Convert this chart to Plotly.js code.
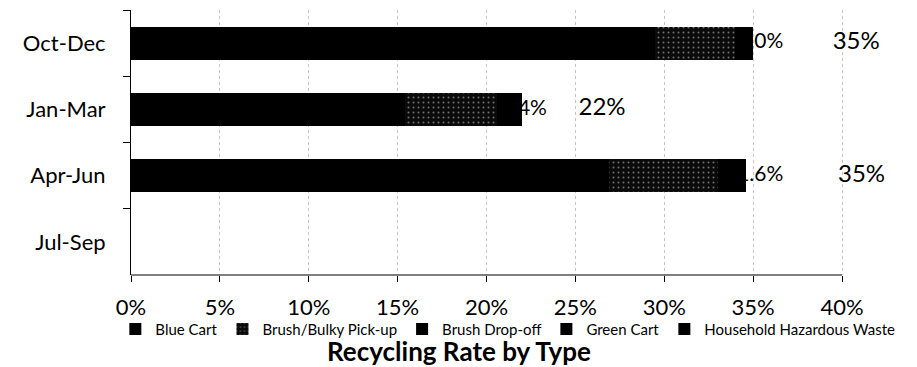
<!DOCTYPE html>
<html>
<head>
<meta charset="utf-8">
<script src="https://cdn.plot.ly/plotly-3.0.1.min.js"></script>
<style>html,body{margin:0;padding:0;background:#fff;}#chart{width:917px;height:367px;}</style>
</head>
<body>
<div id="chart"></div>
<script>
// ---- data ----
var quarters = ["Oct-Dec", "Jan-Mar", "Apr-Jun", "Jul-Sep"];
var seriesNames = ["Blue Cart", "Brush/Bulky Pick-up", "Brush Drop-off", "Green Cart", "Household Hazardous Waste"];
var blueCart       = [29.5, 15.4, 26.9, null];
var brushBulky     = [4.5, 5.2, 6.1, null];
var brushDropoff   = [1.0, 1.4, 1.6, null];
var greenCart      = [0, 0, 0, null];
var hazardousWaste = [0, 0, 0, null];
var totals         = [35, 22, 34.6, null];
var totalLabels    = ["35%", "22%", "35%", ""];
var tailLabels     = ["1.0%", "1.4%", "1.6%", ""];
var xTickVals      = [0, 5, 10, 15, 20, 25, 30, 35, 40];
var xTickText      = ["0%", "5%", "10%", "15%", "20%", "25%", "30%", "35%", "40%"];

// ---- label placement (layout, not data) ----
var tailRightOffset  = [1.7, 1.4, 2.1, 0];
var totalLabelOffset = [5.8, 4.5, 6.5, 0];
var axisMax = 40;      // end of drawn axis line / ticks
var viewMax = 44.05;   // extra room on the right for the total labels

var FONT = "Lato, 'Open Sans', sans-serif";
var series = [blueCart, brushBulky, brushDropoff, greenCart, hazardousWaste];
var traces = series.map(function (vals, i) {
  var t = {
    type: "bar", orientation: "h", name: seriesNames[i],
    y: quarters, x: vals, width: 0.5,
    marker: { color: "#000", line: { width: 0 } },
    hoverinfo: "x+name"
  };
  if (i === 1) {
    t.marker = { color: "#0a0a0a", line: { width: 0 },
      pattern: { shape: ".", fgcolor: "#d8d8d8", bgcolor: "#0a0a0a", size: 5, solidity: 0.12, fillmode: "overlay" } };
  }
  return t;
});

var tailX = totals.map(function (v, i) { return v === null ? null : v + tailRightOffset[i]; });
traces.push({
  type: "scatter", mode: "text", y: quarters, x: tailX, text: tailLabels,
  textposition: "middle left", textfont: { family: FONT, size: 21, color: "#000" },
  showlegend: false, hoverinfo: "skip", cliponaxis: false
});
var totalX = totals.map(function (v, i) { return v === null ? null : v + totalLabelOffset[i]; });
traces.push({
  type: "scatter", mode: "text", y: quarters, x: totalX, text: totalLabels,
  textposition: "middle center", textfont: { family: FONT, size: 24, color: "#000" },
  showlegend: false, hoverinfo: "skip", cliponaxis: false
});

var layout = {
  width: 917, height: 367,
  margin: { l: 131, r: 3, t: 10, b: 92, pad: 0, autoexpand: false },
  paper_bgcolor: "#fff", plot_bgcolor: "#fff",
  barmode: "stack",
  font: { family: FONT, color: "#000" },
  showlegend: true,
  title: { text: "<b>Recycling Rate by Type</b>", font: { family: FONT, size: 26, color: "#000" },
           x: 0.5005, xanchor: "center", y: 0.04, yanchor: "middle", xref: "container", yref: "container" },
  xaxis: {
    range: [0, viewMax], tickvals: xTickVals, ticktext: xTickText, tickangle: 0, automargin: false,
    showgrid: true, gridcolor: "#c4c4c4", griddash: "dot", gridwidth: 1,
    zeroline: false, showline: false,
    ticks: "outside", ticklen: 6, tickcolor: "#000",
    tickfont: { family: FONT, size: 22, color: "#000" }, ticklabelstandoff: 7,
    fixedrange: true
  },
  yaxis: {
    type: "category", categoryorder: "array", categoryarray: quarters, autorange: "reversed", automargin: false,
    showgrid: false, zeroline: false, showline: true, linecolor: "#000", linewidth: 1,
    ticks: "outside", tickson: "boundaries", ticklen: 7, tickcolor: "#000",
    tickfont: { family: FONT, size: 22, color: "#000" }, ticklabelstandoff: 20,
    fixedrange: true
  },
  shapes: [{
    type: "line", xref: "x", yref: "paper", x0: 0, x1: axisMax, y0: 0, y1: 0,
    line: { color: "#000", width: 1 }, layer: "above"
  }],
  legend: {
    orientation: "h", traceorder: "normal", x: -0.02, xanchor: "left", xref: "paper",
    y: -0.205, yanchor: "middle",
    font: { family: FONT, size: 15, color: "#000" },
    itemwidth: 30, tracegroupgap: 0, bgcolor: "rgba(0,0,0,0)"
  }
};

Plotly.newPlot("chart", traces, layout, { displayModeBar: false, staticPlot: true });
</script>
</body>
</html>
